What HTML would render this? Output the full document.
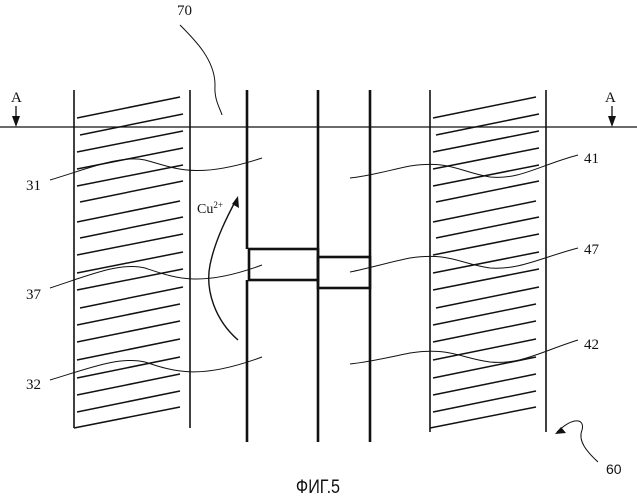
<!DOCTYPE html>
<html><head><meta charset="utf-8"><style>
html,body{margin:0;padding:0;background:#fff;}
svg{display:block;}
text{font-family:"Liberation Serif",serif;fill:#111;}
</style></head><body>
<svg width="637" height="500" viewBox="0 0 637 500" xmlns="http://www.w3.org/2000/svg">
<g stroke="#111" fill="none">
<line x1="0" y1="127" x2="637" y2="127" stroke-width="1.3"/>
<line x1="74" y1="90" x2="74" y2="428" stroke-width="1.6"/>
<line x1="190" y1="90" x2="190" y2="428" stroke-width="1.6"/>
<line x1="430" y1="90" x2="430" y2="432" stroke-width="1.6"/>
<line x1="546" y1="90" x2="546" y2="432" stroke-width="1.6"/>
<line x1="247" y1="90" x2="247" y2="249" stroke-width="2.6"/>
<line x1="247" y1="280" x2="247" y2="442" stroke-width="2.6"/>
<line x1="318" y1="90" x2="318" y2="442" stroke-width="2.6"/>
<line x1="370" y1="90" x2="370" y2="442" stroke-width="2.6"/>
<rect x="249" y="249" width="69" height="31" stroke-width="2.6"/>
<rect x="318" y="257" width="52" height="31" stroke-width="2.6"/>
<g stroke-width="1.5" id="h">
<line x1="77" y1="118" x2="180" y2="97"/>
<line x1="80" y1="135" x2="183" y2="114"/>
<line x1="77" y1="152" x2="183" y2="131"/>
<line x1="77" y1="169" x2="183" y2="148"/>
<line x1="77" y1="186" x2="183" y2="165"/>
<line x1="80" y1="202" x2="183" y2="181"/>
<line x1="77" y1="222" x2="180" y2="201"/>
<line x1="80" y1="238" x2="183" y2="217"/>
<line x1="77" y1="255" x2="183" y2="234"/>
<line x1="77" y1="273" x2="183" y2="252"/>
<line x1="77" y1="290" x2="183" y2="269"/>
<line x1="80" y1="308" x2="183" y2="287"/>
<line x1="77" y1="325" x2="180" y2="304"/>
<line x1="77" y1="342" x2="180" y2="321"/>
<line x1="77" y1="360" x2="180" y2="339"/>
<line x1="77" y1="378" x2="180" y2="357"/>
<line x1="77" y1="395" x2="180" y2="374"/>
<line x1="77" y1="412" x2="180" y2="391"/>
<line x1="74" y1="428" x2="180" y2="407"/>
</g>
<use href="#h" transform="translate(356,0)"/>
<line x1="16" y1="106" x2="16" y2="120" stroke-width="1.3"/>
<line x1="612" y1="106" x2="612" y2="120" stroke-width="1.3"/>
<g stroke-width="1">
<path d="M50 180 C90 168 120 155 145 160 C175 168 195 180 262 158"/>
<path d="M50 288 C90 275 120 262 145 268 C175 278 200 288 262 265"/>
<path d="M50 380 C90 368 120 356 145 362 C175 372 200 380 262 357"/>
<path d="M578 155 C540 165 520 180 490 177 C460 172 450 160 410 166 C390 170 370 176 350 178"/>
<path d="M578 248 C540 258 520 270 490 268 C460 264 450 252 410 258 C390 262 370 268 350 272"/>
<path d="M578 340 C540 352 520 365 490 362 C460 358 450 347 410 353 C390 357 370 362 350 364"/>
<path d="M180 25 C195 40 215 60 215 85 C214 100 220 108 222 115"/>
<path d="M598 462 C585 450 578 440 582 430 C585 420 575 415 557 432"/>
</g>
<path d="M238 340 C215 320 205 290 210 265 C215 240 228 215 236 200" stroke-width="1.4"/>
</g>
<g fill="#111">
<polygon points="16,127 12,116 20,116"/>
<polygon points="612,127 608,116 616,116"/>
<polygon points="238,196 239,208 232,204"/>
<polygon points="555,434 566,433 561,427"/>
</g>
<text x="11" y="102" font-size="15">A</text>
<text x="605" y="102" font-size="15">A</text>
<text x="177" y="15" font-size="15">70</text>
<text x="26" y="190" font-size="15">31</text>
<text x="26" y="299" font-size="15">37</text>
<text x="26" y="389" font-size="15">32</text>
<text x="584" y="163" font-size="15">41</text>
<text x="584" y="254" font-size="15">47</text>
<text x="584" y="349" font-size="15">42</text>
<text x="606" y="474" font-size="14" style="font-family:'Liberation Sans',sans-serif">60</text>
<text x="197" y="213" font-size="14">Cu<tspan font-size="9" dy="-5">2+</tspan></text>
<text x="318" y="493" font-size="19" text-anchor="middle" style="font-family:'Liberation Sans',sans-serif" transform="translate(318,0) scale(0.85,1) translate(-318,0)">ФИГ.5</text>
</svg>
</body></html>
